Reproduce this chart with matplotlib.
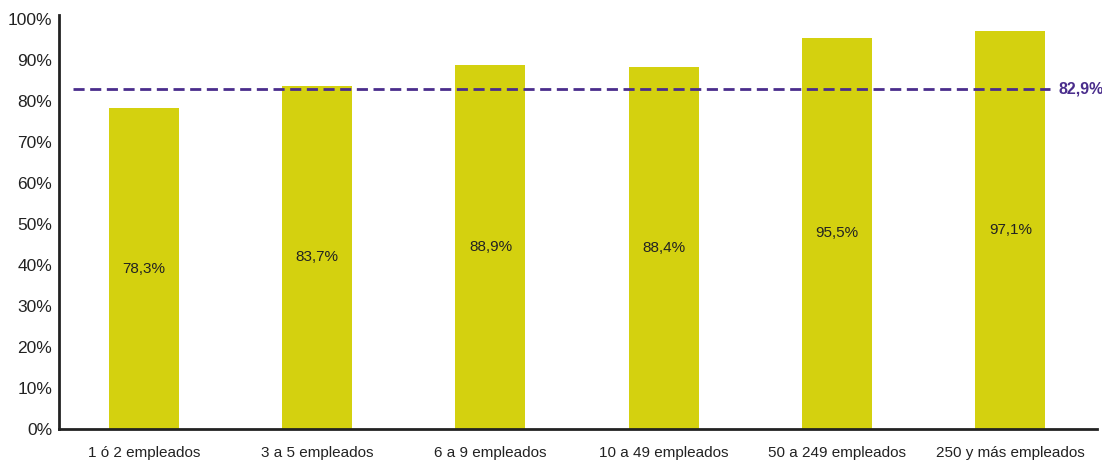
import matplotlib
matplotlib.use("Agg")
import matplotlib.pyplot as plt

categories = ["1 ó 2 empleados", "3 a 5 empleados", "6 a 9 empleados",
              "10 a 49 empleados", "50 a 249 empleados", "250 y más empleados"]
values = [78.3, 83.7, 88.9, 88.4, 95.5, 97.1]
average = 82.9
y_ticks = [0, 10, 20, 30, 40, 50, 60, 70, 80, 90, 100]

plt.rcParams["font.family"] = ["Liberation Sans", "DejaVu Sans"]

bar_color = "#d4d10f"
line_color = "#4a2d8c"
text_color = "#222222"

def fmt(v):
    return f"{v:.1f}".replace(".", ",") + "%"

fig = plt.figure(figsize=(11.02, 4.61), dpi=100)
ax = fig.add_axes([0.0535, 0.0694, 0.942, 0.898])

x = list(range(len(categories)))
ax.bar(x, values, width=0.404, color=bar_color, zorder=2)
for xi, v in zip(x, values):
    ax.text(xi, v / 2, fmt(v), ha="center", va="center", fontsize=11, color=text_color, zorder=3)

ax.plot([-0.41, 5.23], [average, average], color=line_color, lw=2,
        dashes=(4, 2), zorder=4)
ax.text(5.28, average, fmt(average), ha="left", va="center", fontsize=11.5,
        fontweight="bold", color=line_color)

ax.set_xlim(-0.49, 5.50)
ax.set_ylim(0, 101)
ax.set_yticks(y_ticks)
ax.set_yticklabels([f"{t}%" for t in y_ticks], fontsize=12.5, color=text_color)
ax.set_xticks(x)
ax.set_xticklabels(categories, fontsize=11, color=text_color)
ax.tick_params(axis="both", length=0)
ax.tick_params(axis="y", pad=5)
ax.tick_params(axis="x", pad=12)

for side in ("top", "right"):
    ax.spines[side].set_visible(False)
for side in ("left", "bottom"):
    ax.spines[side].set_color("#222222")
    ax.spines[side].set_linewidth(2)

fig.savefig("out.png", dpi=100)
